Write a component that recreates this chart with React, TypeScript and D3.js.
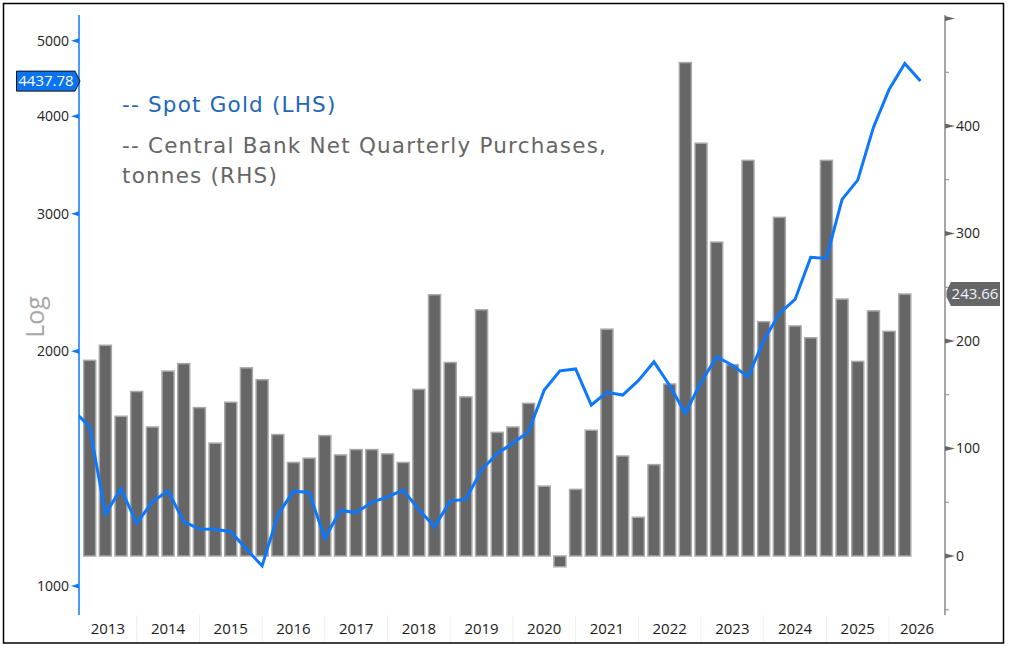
import * as d3 from "d3";

// Quarter-end dates, Q4 2012 .. Q2 2026
const goldQuarters: string[] = [
  "2012Q4",
  "2013Q1", "2013Q2", "2013Q3", "2013Q4",
  "2014Q1", "2014Q2", "2014Q3", "2014Q4",
  "2015Q1", "2015Q2", "2015Q3", "2015Q4",
  "2016Q1", "2016Q2", "2016Q3", "2016Q4",
  "2017Q1", "2017Q2", "2017Q3", "2017Q4",
  "2018Q1", "2018Q2", "2018Q3", "2018Q4",
  "2019Q1", "2019Q2", "2019Q3", "2019Q4",
  "2020Q1", "2020Q2", "2020Q3", "2020Q4",
  "2021Q1", "2021Q2", "2021Q3", "2021Q4",
  "2022Q1", "2022Q2", "2022Q3", "2022Q4",
  "2023Q1", "2023Q2", "2023Q3", "2023Q4",
  "2024Q1", "2024Q2", "2024Q3", "2024Q4",
  "2025Q1", "2025Q2", "2025Q3", "2025Q4",
  "2026Q1", "2026Q2",
];

// Spot gold, USD/oz, quarter end
const goldPrice: number[] = [
  1675,
  1600, 1236, 1333, 1203,
  1282, 1325, 1209, 1183,
  1182, 1174, 1115, 1061,
  1233, 1323, 1318, 1151,
  1250, 1242, 1280, 1301,
  1327, 1253, 1191, 1285,
  1292, 1408, 1479, 1524,
  1577, 1783, 1887, 1898,
  1706, 1771, 1757, 1833,
  1938, 1807, 1665, 1824,
  1967, 1919, 1854, 2063,
  2236, 2330, 2638, 2630,
  3130, 3313, 3871, 4330,
  4675, 4437.78,
];

// Central bank net purchases, tonnes, Q1 2013 .. Q1 2026
const cbQuarters: string[] = goldQuarters.slice(1, 54);
const cbTonnes: number[] = [
  182, 196, 130, 153,
  120, 172, 179, 138,
  105, 143, 175, 164,
  113, 87, 91, 112,
  94, 99, 99, 95,
  87, 155, 243, 180,
  148, 229, 115, 120,
  142, 65, -10, 62,
  117, 211, 93, 36,
  85, 160, 459, 384,
  292, 178, 368, 218,
  315, 214, 203, 368,
  239, 181, 228, 209,
  243.66,
];

const leftTicks: number[] = [1000, 2000, 3000, 4000, 5000];
const rightTicks: number[] = [0, 100, 200, 300, 400, 500];
const rightMinor: number[] = [-50, 50, 150, 250, 350, 450];
const years: number[] = d3.range(2013, 2027);

const BLUE = "#0b78ff";
const FONT = "'Open Sans', 'Noto Sans', sans-serif";
const LEGEND_FONT = "'DejaVu Sans', sans-serif";

const toYear = (q: string) => +q.slice(0, 4) + +q.slice(5) / 4;

export default function App() {
  const width = 1010;
  const height = 646;
  const left = 79;
  const right = 945;
  const top = 15;
  const bottom = 615;

  const x = d3.scaleLinear().domain([2013, 2026]).range([74, 889.1]);
  const yL = d3.scaleLog().domain([1000, 5000]).range([586, 40.7]);
  const yR = d3.scaleLinear().domain([0, 400]).range([556, 126]);

  const barW = 12;
  const line = d3
    .line<number>()
    .x((_, i) => x(toYear(goldQuarters[i])))
    .y((d) => yL(d));

  const lastGold = goldPrice[goldPrice.length - 1];
  const lastCb = cbTonnes[cbTonnes.length - 1];
  const gy = yL(lastGold);
  const cy = yR(lastCb);

  return (
    <svg
      width={width}
      height={height}
      style={{ position: "absolute", left: 0, top: 0, background: "#fff" }}
      fontFamily={FONT}
    >
      <defs>
        <clipPath id="plot">
          <rect x={left} y={top} width={right - left} height={bottom - top} />
        </clipPath>
      </defs>
      <rect x={3.5} y={3.5} width={1000} height={639.5} fill="#fff" stroke="#000" strokeWidth={1.5} />

      {/* year separators and labels */}
      {years.slice(1).map((yr) => (
        <line key={"s" + yr} x1={x(yr)} x2={x(yr)} y1={bottom} y2={642} stroke="#efefef" />
      ))}
      {years.map((yr) => {
        const a = Math.max(x(yr), left);
        const b = Math.min(x(yr + 1), right);
        return (
          <text key={yr} x={(a + b) / 2} y={634} textAnchor="middle" fontSize={15} fill="#1a1a1a">
            {yr}
          </text>
        );
      })}

      {/* bars */}
      <g clipPath="url(#plot)">
        {cbTonnes.map((v, i) => {
          const cx = x(toYear(cbQuarters[i]));
          const y0 = yR(0);
          const y1 = yR(v);
          return (
            <rect
              key={i}
              x={cx - barW / 2}
              y={Math.min(y0, y1)}
              width={barW}
              height={Math.abs(y1 - y0)}
              fill="#666666"
              stroke="#a8a8a8"
              strokeWidth={1.5}
            />
          );
        })}
        <path d={line(goldPrice) ?? ""} fill="none" stroke={BLUE} strokeWidth={3} strokeLinejoin="miter" />
      </g>

      {/* left axis */}
      <line x1={left} x2={left} y1={top} y2={bottom} stroke={BLUE} strokeWidth={1.5} />
      {leftTicks.map((t) => (
        <g key={t} transform={`translate(${left},${yL(t)})`}>
          <path d="M0,-2.5 L-8,0 L0,2.5 Z" fill={BLUE} />
          <text x={-10} dy="0.35em" textAnchor="end" fontSize={14} fill="#222">
            {t}
          </text>
        </g>
      ))}
      <text
        transform={`translate(44,317) rotate(-90)`}
        textAnchor="middle"
        fontSize={25}
        fill="#a8a8a8"
      >
        Log
      </text>

      {/* right axis */}
      <line x1={right} x2={right} y1={top} y2={bottom} stroke="#888" strokeWidth={1.5} />
      {rightTicks.map((t) => (
        <g key={t} transform={`translate(${right},${yR(t)})`}>
          <path d="M0,-2.5 L10,0 L0,2.5 Z" fill="#666" />
          {t < 500 && (
            <text x={11} dy="0.35em" fontSize={14} fill="#222">
              {t}
            </text>
          )}
        </g>
      ))}
      {rightMinor.map((t) => (
        <line key={t} x1={right} x2={right + 4} y1={yR(t)} y2={yR(t)} stroke="#888" />
      ))}

      {/* last value tags */}
      <path
        d={`M16.5,${gy - 10} H75 L80,${gy} L75,${gy + 10} H16.5 Z`}
        fill="#0a74f0"
        stroke="#111"
        strokeWidth={1}
      />
      <text x={46} y={gy} dy="0.35em" textAnchor="middle" fontSize={15} fill="#fff">
        {lastGold.toFixed(2)}
      </text>
      <path
        d={`M946.5,${cy - 3} L951,${cy - 12} H1000 V${cy + 12} H951 L946.5,${cy + 3} Z`}
        fill="#666"
      />
      <text x={975} y={cy} dy="0.35em" textAnchor="middle" fontSize={15} fill="#eef3ff">
        {lastCb.toFixed(2)}
      </text>

      {/* legend */}
      <g fontFamily={LEGEND_FONT} fontSize={21.5} letterSpacing={1.2}>
        <text x={122} y={112} fill="#2266b8">
          -- Spot Gold (LHS)
        </text>
        <text x={122} y={153} fill="#666">
          -- Central Bank Net Quarterly Purchases,
        </text>
        <text x={122} y={183} fill="#666">
          tonnes (RHS)
        </text>
      </g>
    </svg>
  );
}
